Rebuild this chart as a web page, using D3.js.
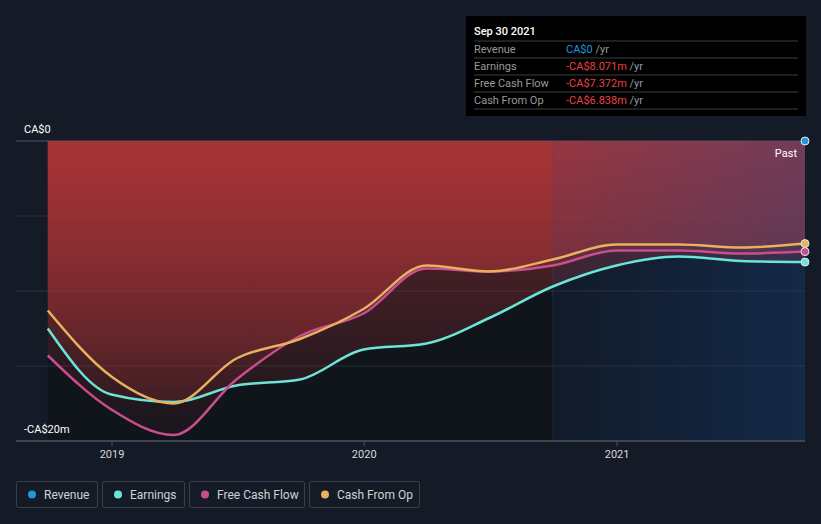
<!DOCTYPE html>
<html>
<head>
<meta charset="utf-8">
<script src="https://cdn.jsdelivr.net/npm/d3@7"></script>
<style>
  body { margin: 0; background: #151b26; font-family: Roboto, "Noto Sans", sans-serif; }
  svg { display: block; }
</style>
</head>
<body>
<svg id="chart" width="821" height="524"></svg>
<script>
// quarterly points, values in CA$ millions
const dates = ['2018-09-30', '2018-12-31', '2019-03-31', '2019-06-30', '2019-09-30', '2019-12-31',
  '2020-03-31', '2020-06-30', '2020-09-30', '2020-12-31', '2021-03-31', '2021-06-30', '2021-09-30'];
const revenue = [0, 0, 0, 0, 0, 0, 0, 0, 0, 0, 0, 0, 0];
const earnings = [-12.5, -16.9, -17.4, -16.3, -15.9, -13.9, -13.5, -11.8, -9.7, -8.3, -7.7, -8.0, -8.071];
const freeCashFlow = [-14.3, -17.9, -19.6, -15.9, -13.0, -11.5, -8.5, -8.7, -8.3, -7.3, -7.3, -7.5, -7.372];
const cashFromOp = [-11.3, -15.7, -17.5, -14.5, -13.2, -11.2, -8.3, -8.7, -7.9, -6.9, -6.9, -7.1, -6.838];
const yTicks = [0, -5, -10, -15, -20];
const yearTicks = ['2019-01-01', '2020-01-01', '2021-01-01'];

const series = [
  { name: 'Revenue', color: '#2394df', values: revenue, value: 'CA$0' },
  { name: 'Earnings', color: '#6ce5d8', values: earnings, value: '-CA$8.071m' },
  { name: 'Free Cash Flow', color: '#c84e8f', values: freeCashFlow, value: '-CA$7.372m' },
  { name: 'Cash From Op', color: '#e8b160', values: cashFromOp, value: '-CA$6.838m' }
];

const parse = d3.timeParse('%Y-%m-%d');
const svg = d3.select('#chart');

const x = d3.scaleTime()
  .domain([parse('2018-08-15'), parse(dates[dates.length - 1])])
  .range([16, 805]);
const y = d3.scaleLinear().domain([-20, 0]).range([441, 141]);

const x0 = x(parse(dates[0]));
const xEnd = x(parse(dates[dates.length - 1]));
const xPast = x(parse(dates[dates.length - 5]));

const defs = svg.append('defs');
const red = defs.append('linearGradient').attr('id', 'red')
  .attr('gradientUnits', 'userSpaceOnUse')
  .attr('x1', 0).attr('x2', 0).attr('y1', y(0)).attr('y2', y(-20));
red.append('stop').attr('offset', 0).attr('stop-color', '#c0393b').attr('stop-opacity', 0.48);
red.append('stop').attr('offset', 1).attr('stop-color', '#c0393b').attr('stop-opacity', 0.04);

const blue = defs.append('linearGradient').attr('id', 'blue')
  .attr('x1', 0).attr('x2', 1).attr('y1', 0).attr('y2', 0);
blue.append('stop').attr('offset', 0).attr('stop-color', '#1a4a90').attr('stop-opacity', 0.12);
blue.append('stop').attr('offset', 1).attr('stop-color', '#1a4a90').attr('stop-opacity', 0.38);

// plot background
svg.append('rect')
  .attr('x', x0).attr('y', y(0))
  .attr('width', xEnd - x0).attr('height', y(-20) - y(0))
  .attr('fill', '#10141b');

// grid
svg.append('g')
  .selectAll('line')
  .data(yTicks)
  .join('line')
  .attr('x1', 16).attr('x2', 805)
  .attr('y1', d => y(d)).attr('y2', d => y(d))
  .attr('stroke', d => d === 0 ? '#4a505c' : '#ffffff')
  .attr('stroke-opacity', d => d === 0 ? 1 : 0.1);

// loss areas
const area = vals => d3.area()
  .x((d, i) => x(parse(dates[i])))
  .y0(y(0))
  .y1(d => y(d))
  .curve(d3.curveMonotoneX)(vals);

svg.append('g')
  .selectAll('path')
  .data([earnings, freeCashFlow, cashFromOp])
  .join('path')
  .attr('d', d => area(d))
  .attr('fill', 'url(#red)');

// past year highlight
svg.append('rect')
  .attr('x', xPast).attr('y', y(0))
  .attr('width', xEnd - xPast).attr('height', y(-20) - y(0))
  .attr('fill', 'url(#blue)');
svg.append('line')
  .attr('x1', xPast).attr('x2', xPast)
  .attr('y1', y(0)).attr('y2', y(-20))
  .attr('stroke', '#3a4a70').attr('stroke-opacity', 0.35).attr('stroke-width', 1);

// lines
const line = d3.line()
  .x((d, i) => x(parse(dates[i])))
  .y(d => y(d))
  .curve(d3.curveMonotoneX);

svg.append('g')
  .attr('fill', 'none')
  .attr('stroke-width', 2.5)
  .selectAll('path')
  .data(series.slice(1))
  .join('path')
  .attr('stroke', d => d.color)
  .attr('d', d => line(d.values));

// end markers
svg.append('g')
  .selectAll('circle')
  .data(series)
  .join('circle')
  .attr('cx', xEnd)
  .attr('cy', d => y(d.values[d.values.length - 1]))
  .attr('r', 4)
  .attr('fill', d => d.color)
  .attr('stroke', '#e6e6e6')
  .attr('stroke-width', 1);

// x axis
svg.append('line')
  .attr('x1', 16).attr('x2', 805)
  .attr('y1', 441).attr('y2', 441)
  .attr('stroke', '#4a505c').attr('stroke-width', 1.5);

const xt = svg.append('g')
  .selectAll('g')
  .data(yearTicks)
  .join('g')
  .attr('transform', d => `translate(${x(parse(d))},441)`);
xt.append('line').attr('y1', 0).attr('y2', 5).attr('stroke', '#4a505c');
xt.append('text')
  .attr('y', 17)
  .attr('text-anchor', 'middle')
  .attr('font-size', 11)
  .attr('fill', '#d8d8d8')
  .text(d => d3.timeFormat('%Y')(parse(d)));

// y labels
svg.append('text').attr('x', 24).attr('y', 133)
  .attr('font-size', 11).attr('fill', '#ffffff').text('CA$0');
svg.append('text').attr('x', 24).attr('y', 433)
  .attr('font-size', 11).attr('fill', '#ffffff').text('-CA$20m');

svg.append('text').attr('x', 797).attr('y', 157)
  .attr('text-anchor', 'end')
  .attr('font-size', 11).attr('fill', '#ffffff').text('Past');

// tooltip
const tip = svg.append('g').attr('transform', 'translate(466,16)');
tip.append('rect').attr('width', 340).attr('height', 100).attr('fill', '#000000');
tip.append('text').attr('x', 8).attr('y', 19)
  .attr('font-size', 11).attr('font-weight', 500).attr('fill', '#ffffff').text('Sep 30 2021');
const rows = tip.selectAll('g.row')
  .data(series)
  .join('g')
  .attr('class', 'row')
  .attr('transform', (d, i) => `translate(0,${25 + i * 17})`);
rows.append('line').attr('x1', 8).attr('x2', 332)
  .attr('stroke', '#3c3f45').attr('stroke-width', 1);
rows.append('text').attr('x', 8).attr('y', 12)
  .attr('font-size', 11).attr('fill', '#9a9a9a').text(d => d.name);
const val = rows.append('text').attr('x', 100).attr('y', 12).attr('font-size', 11);
val.append('tspan').attr('fill', (d, i) => i === 0 ? '#2394df' : '#ef4040').text(d => d.value);
val.append('tspan').attr('fill', '#9a9a9a').text(' /yr');
tip.append('line').attr('x1', 8).attr('x2', 332).attr('y1', 93).attr('y2', 93)
  .attr('stroke', '#3c3f45');

// legend
const legendX = [16, 102, 189, 309];
const legendW = [81, 82, 115, 110];
const leg = svg.append('g')
  .selectAll('g')
  .data(series)
  .join('g')
  .attr('transform', (d, i) => `translate(${legendX[i]},481)`);
leg.append('rect')
  .attr('x', 0.5).attr('y', 0.5)
  .attr('width', (d, i) => legendW[i]).attr('height', 26)
  .attr('rx', 2)
  .attr('fill', 'none').attr('stroke', '#3a3f4a');
leg.append('circle').attr('cx', 16).attr('cy', 13.5).attr('r', 4).attr('fill', d => d.color);
leg.append('text').attr('x', 28).attr('y', 17.5)
  .attr('font-size', 12).attr('fill', '#cfd2d6').text(d => d.name);
</script>
</body>
</html>
